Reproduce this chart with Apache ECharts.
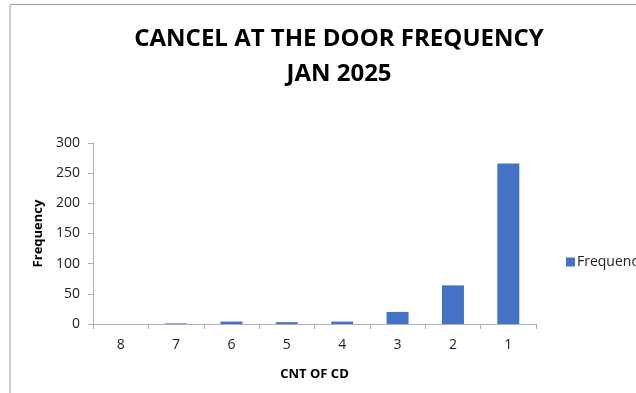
<!DOCTYPE html>
<html>
<head>
<meta charset="utf-8">
<script src="https://cdn.jsdelivr.net/npm/echarts@6/dist/echarts.min.js"></script>
<style>
  html, body { margin: 0; padding: 0; background: #fff; }
  #main { width: 636px; height: 393px; }
</style>
</head>
<body>
<div id="main"></div>
<script>
// categories shown left to right
const cntOfCd = ['8', '7', '6', '5', '4', '3', '2', '1'];
const frequency = [0, 1, 4, 3, 4, 20, 64, 266];
const yTicks = [0, 300, 50];

const chart = echarts.init(document.getElementById('main'));

const font = '"Open Sans", "Liberation Sans", sans-serif';

chart.setOption({
  animation: false,
  title: {
    text: 'CANCEL AT THE DOOR FREQUENCY\nJAN 2025',
    left: 334,
    textAlign: 'center',
    top: 17,
    textStyle: {
      fontFamily: font,
      fontSize: 24,
      fontWeight: 'bold',
      color: '#000',
      lineHeight: 35
    }
  },
  legend: {
    left: 561,
    top: 250,
    itemWidth: 9,
    itemHeight: 9,
    itemGap: 4,
    textStyle: { fontFamily: font, fontSize: 14, color: '#222', padding: [0, 0, 0, -3] },
    data: [{ name: 'Frequency', icon: 'rect' }]
  },
  grid: {
    left: 93,
    top: 143,
    width: 443,
    height: 181,
    containLabel: false
  },
  xAxis: {
    type: 'category',
    data: cntOfCd,
    name: 'CNT OF CD',
    nameLocation: 'middle',
    nameGap: 44,
    nameTextStyle: { fontFamily: font, fontSize: 13, fontWeight: 'bold', color: '#000' },
    axisLine: { lineStyle: { color: '#b0b0b0', width: 1 } },
    axisTick: { show: true, length: 5, lineStyle: { color: '#b0b0b0' } },
    axisLabel: { fontFamily: font, fontSize: 14, color: '#222', margin: 14 }
  },
  yAxis: {
    type: 'value',
    min: yTicks[0],
    max: yTicks[1],
    interval: yTicks[2],
    name: 'Frequency',
    nameLocation: 'middle',
    nameGap: 48,
    nameTextStyle: { fontFamily: font, fontSize: 13, fontWeight: 'bold', color: '#000' },
    axisLine: { show: true, lineStyle: { color: '#b0b0b0', width: 1 } },
    axisTick: { show: true, length: 5, lineStyle: { color: '#b0b0b0' } },
    axisLabel: { fontFamily: font, fontSize: 14, color: '#222', margin: 13 },
    splitLine: { show: false }
  },
  graphic: [
    {
      type: 'polyline',
      shape: { points: [[10, 393], [10, 4.5], [636, 4.5]] },
      style: { stroke: '#a0a0a0', lineWidth: 1, fill: null },
      silent: true
    }
  ],
  series: [
    {
      name: 'Frequency',
      type: 'bar',
      data: frequency,
      barWidth: 22,
      itemStyle: { color: '#4472c4' }
    }
  ]
});
</script>
</body>
</html>
